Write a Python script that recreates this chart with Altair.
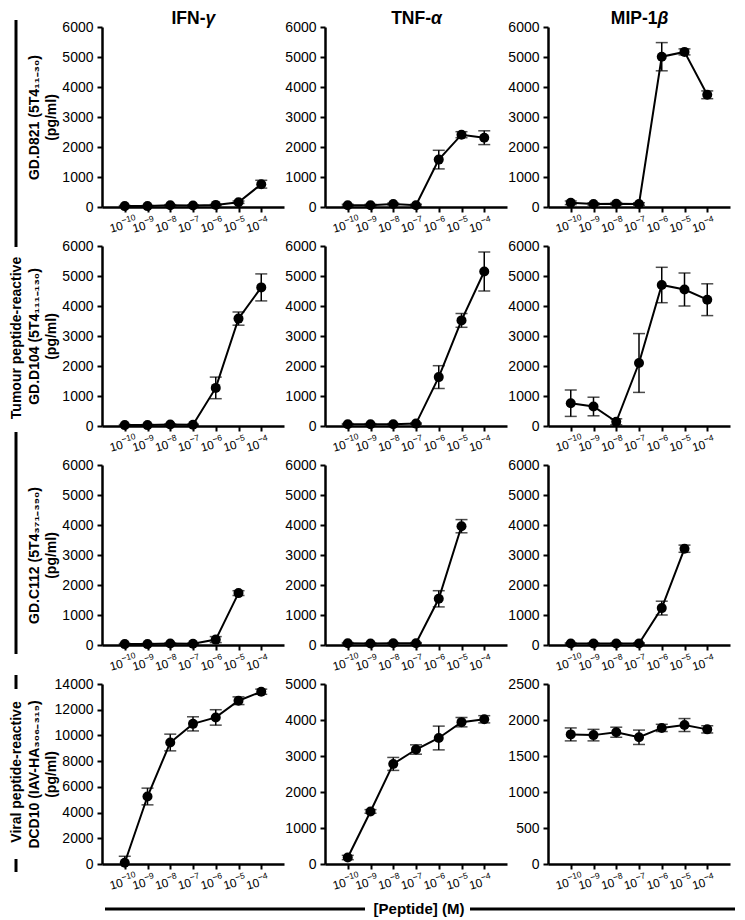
import altair as alt
import pandas as pd

# ---------------- data ----------------
conc = [1e-10, 1e-9, 1e-8, 1e-7, 1e-6, 1e-5, 1e-4]
tick_base = ["10", "10", "10", "10", "10", "10", "10"]
tick_exp = ["−10", "−9", "−8", "−7", "−6", "−5", "−4"]
cytokines = ["IFN-", "TNF-", "MIP-1"]
greek = ["γ", "α", "β"]
clones = [
    ["GD.D821 (5T4₁₁₋₃₀)", "(pg/ml)"],
    ["GD.D104 (5T4₁₁₁₋₁₃₀)", "(pg/ml)"],
    ["GD.C112 (5T4₃₇₁₋₃₉₀)", "(pg/ml)"],
    ["DCD10 (IAV-HA₃₀₆₋₃₁₉)", "(pg/ml)"],
]
y_max = [[6000, 6000, 6000], [6000, 6000, 6000], [6000, 6000, 6000], [14000, 5000, 2500]]
y_step = [[1000, 1000, 1000], [1000, 1000, 1000], [1000, 1000, 1000], [2000, 1000, 500]]

d821_ifn = [30, 30, 60, 50, 70, 160, 760]
d821_ifn_err = [20, 20, 20, 20, 20, 40, 130]
d821_tnf = [60, 60, 100, 60, 1580, 2410, 2310]
d821_tnf_err = [30, 30, 30, 30, 310, 100, 230]
d821_mip = [140, 100, 110, 100, 5010, 5170, 3740]
d821_mip_err = [60, 40, 40, 40, 470, 100, 130]

d104_ifn = [30, 30, 50, 40, 1270, 3580, 4620]
d104_ifn_err = [20, 20, 20, 20, 360, 220, 450]
d104_tnf = [60, 60, 60, 80, 1630, 3520, 5150]
d104_tnf_err = [20, 20, 20, 20, 380, 230, 650]
d104_mip = [760, 650, 140, 2100, 4700, 4550, 4210]
d104_mip_err = [440, 310, 100, 980, 590, 550, 530]

c112_ifn = [30, 30, 50, 40, 180, 1730, None]
c112_ifn_err = [20, 20, 20, 20, 100, 80, None]
c112_tnf = [60, 50, 60, 60, 1540, 3960, None]
c112_tnf_err = [20, 20, 20, 20, 270, 220, None]
c112_mip = [50, 50, 50, 50, 1230, 3210, None]
c112_mip_err = [20, 20, 20, 20, 230, 120, None]

dcd10_ifn = [100, 5250, 9450, 10900, 11400, 12700, 13400]
dcd10_ifn_err = [500, 650, 650, 550, 600, 300, 200]
dcd10_tnf = [180, 1460, 2780, 3180, 3500, 3940, 4020]
dcd10_tnf_err = [60, 50, 180, 130, 330, 130, 100]
dcd10_mip = [1800, 1790, 1830, 1760, 1890, 1930, 1870]
dcd10_mip_err = [90, 80, 70, 100, 50, 90, 50]

series = [
    [(d821_ifn, d821_ifn_err), (d821_tnf, d821_tnf_err), (d821_mip, d821_mip_err)],
    [(d104_ifn, d104_ifn_err), (d104_tnf, d104_tnf_err), (d104_mip, d104_mip_err)],
    [(c112_ifn, c112_ifn_err), (c112_tnf, c112_tnf_err), (c112_mip, c112_mip_err)],
    [(dcd10_ifn, dcd10_ifn_err), (dcd10_tnf, dcd10_tnf_err), (dcd10_mip, dcd10_mip_err)],
]

# ---------------- style ----------------
FONT = "Liberation Sans"
W, H = 182, 180

one = pd.DataFrame({"k": [0]})
ticks_df = pd.DataFrame({"conc": conc, "base": tick_base, "exp": tick_exp})


def ann_text(text, x, y, size=15, angle=0, align="center", style="normal", baseline="middle"):
    return alt.Chart(one).mark_text(
        text=text, font=FONT, fontSize=size, fontWeight="bold", fontStyle=style,
        angle=angle, align=align, baseline=baseline, color="black"
    ).encode(x=alt.value(x), y=alt.value(y))


def ann_vline(x, y1, y2, w=3):
    return alt.Chart(one).mark_rule(color="black", strokeWidth=w).encode(
        x=alt.value(x), y=alt.value(y1), y2=alt.value(y2))


def ann_hline(x1, x2, y, w=3):
    return alt.Chart(one).mark_rule(color="black", strokeWidth=w).encode(
        x=alt.value(x1), x2=alt.value(x2), y=alt.value(y))


title_split = [103.5, 106, 109.5]

panels = []
for r in range(4):
    for c in range(3):
        vals, errs = series[r][c]
        rows = [
            {"conc": x, "mean": v, "lo": v - e, "hi": v + e}
            for x, v, e in zip(conc, vals, errs) if v is not None
        ]
        df = pd.DataFrame(rows)
        ymax = y_max[r][c]
        step = y_step[r][c]
        xscale = alt.Scale(type="log", domain=[1e-11, 1e-3])
        xaxis = alt.Axis(values=conc, labels=False, title=None)
        yvals = list(range(0, ymax + 1, step))
        if c == 0:
            yaxis = alt.Axis(
                values=yvals, labelFontSize=14, labelPadding=4,
                format="d", labelOverlap=False,
                title=clones[r], titleFontSize=14, titleFontWeight="bold",
                titleLineHeight=17, titleX=-61, titleY=H / 2, titleAlign="center",
                titleBaseline="bottom", titleAngle=270,
            )
        else:
            yaxis = alt.Axis(
                values=yvals, labelFontSize=14, labelPadding=4,
                format="d", labelOverlap=False, title=None,
            )
        yscale = alt.Scale(domain=[0, ymax], nice=False)

        def X(field="conc"):
            return alt.X(f"{field}:Q", scale=xscale, axis=xaxis)

        def Y(field):
            return alt.Y(f"{field}:Q", scale=yscale, axis=yaxis)

        base = alt.Chart(df)
        line = base.mark_line(color="black", strokeWidth=2).encode(x=X(), y=Y("mean"))
        err = base.mark_rule(color="black", strokeWidth=1.5, clip=True).encode(
            x=X(), y=Y("lo"), y2="hi:Q")
        cap_hi = base.mark_tick(color="black", orient="horizontal", size=12,
                                thickness=1.5, clip=True).encode(x=X(), y=Y("hi"))
        cap_lo = base.mark_tick(color="black", orient="horizontal", size=12,
                                thickness=1.5, clip=True).encode(x=X(), y=Y("lo"))
        pts = base.mark_circle(color="black", size=100, opacity=1).encode(x=X(), y=Y("mean"))
        tb = alt.Chart(ticks_df).mark_text(
            font=FONT, fontSize=12, angle=345, align="right", baseline="alphabetic",
            dx=-1, color="black").encode(x=X(), y=alt.value(H + 22), text="base:N")
        te = alt.Chart(ticks_df).mark_text(
            font=FONT, fontSize=8.5, angle=345, align="left", baseline="alphabetic",
            dx=-1, dy=-6, color="black").encode(x=X(), y=alt.value(H + 22), text="exp:N")
        layers = [line, err, cap_hi, cap_lo, pts, tb, te]
        if r == 0:
            layers.append(ann_text(cytokines[c], title_split[c], -3, size=17.5,
                                   align="right", baseline="alphabetic"))
            layers.append(ann_text(greek[c], title_split[c], -3, size=17.5,
                                   align="left", style="italic", baseline="alphabetic"))
        if r == 1 and c == 0:
            layers.append(ann_vline(-86, -226, 1))
            layers.append(ann_text("Tumour peptide-reactive", -85, 92, size=14, angle=270))
            layers.append(ann_vline(-86, 186, 408))
        if r == 3 and c == 0:
            layers.append(ann_vline(-86, -9, 5))
            layers.append(ann_text("Viral peptide-reactive", -85, 88, size=14, angle=270))
            layers.append(ann_vline(-86, 175, 188))
        if r == 3 and c == 1:
            layers.append(ann_hline(-220, 40, 225))
            layers.append(ann_text("[Peptide] (M)", 94, 225))
            layers.append(ann_hline(145, 410, 225))
        panels.append(alt.layer(*layers).properties(width=W, height=H))

chart = alt.concat(
    *panels, columns=3, spacing={"row": 39, "column": 41}, bounds="flush"
).properties(padding={"top": 2, "left": 2, "right": 0, "bottom": 0}).configure_view(
    stroke=None
).configure_axis(
    grid=False, domainColor="black", domainWidth=2.5, tickColor="black",
    tickWidth=2, tickSize=5, labelColor="black", labelFont=FONT, titleFont=FONT,
    titleColor="black", labelOverlap=False,
)

chart.save("out.html", embed_options={"renderer": "svg", "actions": False})
